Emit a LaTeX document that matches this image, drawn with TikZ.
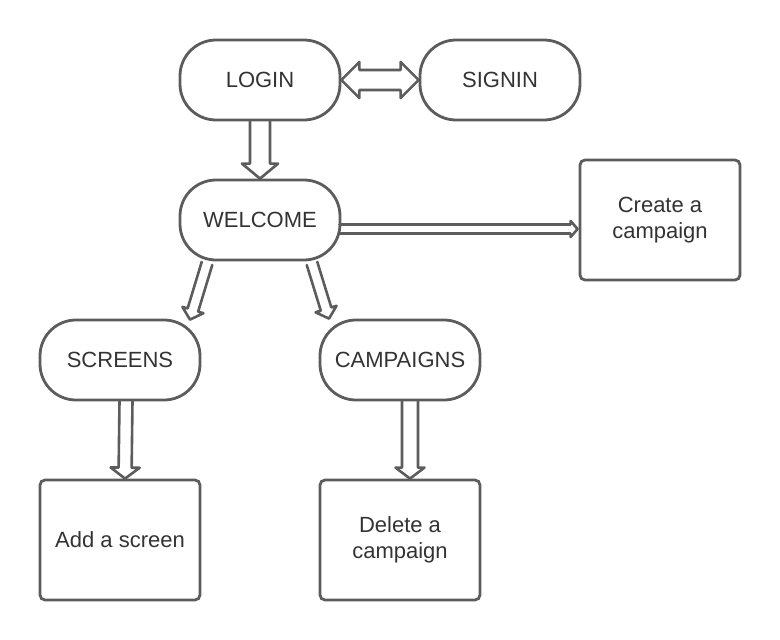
\documentclass[tikz,border=0pt]{standalone}
\usepackage{fontspec}
\setmainfont{Liberation Sans}
\usetikzlibrary{calc}

\definecolor{linegray}{HTML}{5C5C5C}
\definecolor{textgray}{HTML}{333333}

\tikzset{
  stage/.style={draw=linegray,line width=2.8pt,rounded corners=36pt,minimum width=160pt,minimum height=80pt,inner sep=0pt,text=textgray,font=\fontsize{22}{25.7}\selectfont},
  task/.style={draw=linegray,line width=2.8pt,rounded corners=5pt,minimum width=160pt,minimum height=120pt,inner sep=0pt,align=center,text=textgray,font=\fontsize{22}{25.7}\selectfont},
  blockline/.style={draw=linegray,line width=2.6pt,line join=round,line cap=round}
}

% hollow block arrow: [style]{from}{to}{shaft}{head}{head length}
\newcommand\blockarrow[6][]{%
  \coordinate (ba-a) at #2;
  \coordinate (ba-b) at #3;
  \coordinate (ba-h) at ($(ba-b)!#6!(ba-a)$);
  \draw[blockline,#1] ($(ba-a)!#4!90:(ba-b)$) -- ($(ba-h)!#4!-90:(ba-a)$)
    -- ($(ba-h)!#5!-90:(ba-a)$) -- (ba-b) -- ($(ba-h)!#5!90:(ba-a)$)
    -- ($(ba-h)!#4!90:(ba-a)$) -- ($(ba-a)!#4!-90:(ba-b)$);
}
% same, with a head at both ends
\newcommand\dblockarrow[6][]{%
  \coordinate (ba-a) at #2;
  \coordinate (ba-b) at #3;
  \coordinate (ba-g) at ($(ba-a)!#6!(ba-b)$);
  \coordinate (ba-h) at ($(ba-b)!#6!(ba-a)$);
  \draw[blockline,#1] (ba-a) -- ($(ba-g)!#5!90:(ba-b)$) -- ($(ba-g)!#4!90:(ba-b)$)
    -- ($(ba-h)!#4!-90:(ba-a)$) -- ($(ba-h)!#5!-90:(ba-a)$) -- (ba-b)
    -- ($(ba-h)!#5!90:(ba-a)$) -- ($(ba-h)!#4!90:(ba-a)$)
    -- ($(ba-g)!#4!-90:(ba-b)$) -- ($(ba-g)!#5!-90:(ba-b)$) -- cycle;
}

\begin{document}
\begin{tikzpicture}[x=1pt,y=-1pt]
  \useasboundingbox (0,0) rectangle (780,640);

  \node[stage] (login) at (260,80) {LOGIN};
  \node[stage] (signin) at (500,80) {SIGNIN};
  \node[stage] (welcome) at (260,220) {WELCOME};
  \node[task] (create) at (660,220) {Create a\\campaign};
  \node[stage] (screens) at (120,360) {SCREENS};
  \node[stage] (campaigns) at (400,360) {CAMPAIGNS};
  \node[task] (addscreen) at (120,540) {Add a screen};
  \node[task] (deletecamp) at (400,540) {Delete a\\campaign};

  \dblockarrow{(login.east)}{(signin.west)}{10pt}{18pt}{18pt}
  \blockarrow{(login.south)}{(welcome.north)}{10pt}{18pt}{15pt}
  \blockarrow{($(welcome.east)+(-2,9)$)}{($(create.west)+(-1,9)$)}{4.5pt}{8pt}{7pt}
  \blockarrow{($(welcome.south)+(-53,2)$)}{($(screens.north)+(70,1)$)}{5.5pt}{11pt}{10pt}
  \blockarrow{($(welcome.south)+(52,2)$)}{($(campaigns.north)+(-71,0)$)}{5.5pt}{11pt}{10pt}
  \blockarrow{($(screens.south)+(6,0)$)}{($(addscreen.north)+(5,0)$)}{6.5pt}{14.5pt}{11pt}
  \blockarrow{($(campaigns.south)+(10,0)$)}{($(deletecamp.north)+(10,0)$)}{8pt}{14.5pt}{11pt}

\end{tikzpicture}
\end{document}
